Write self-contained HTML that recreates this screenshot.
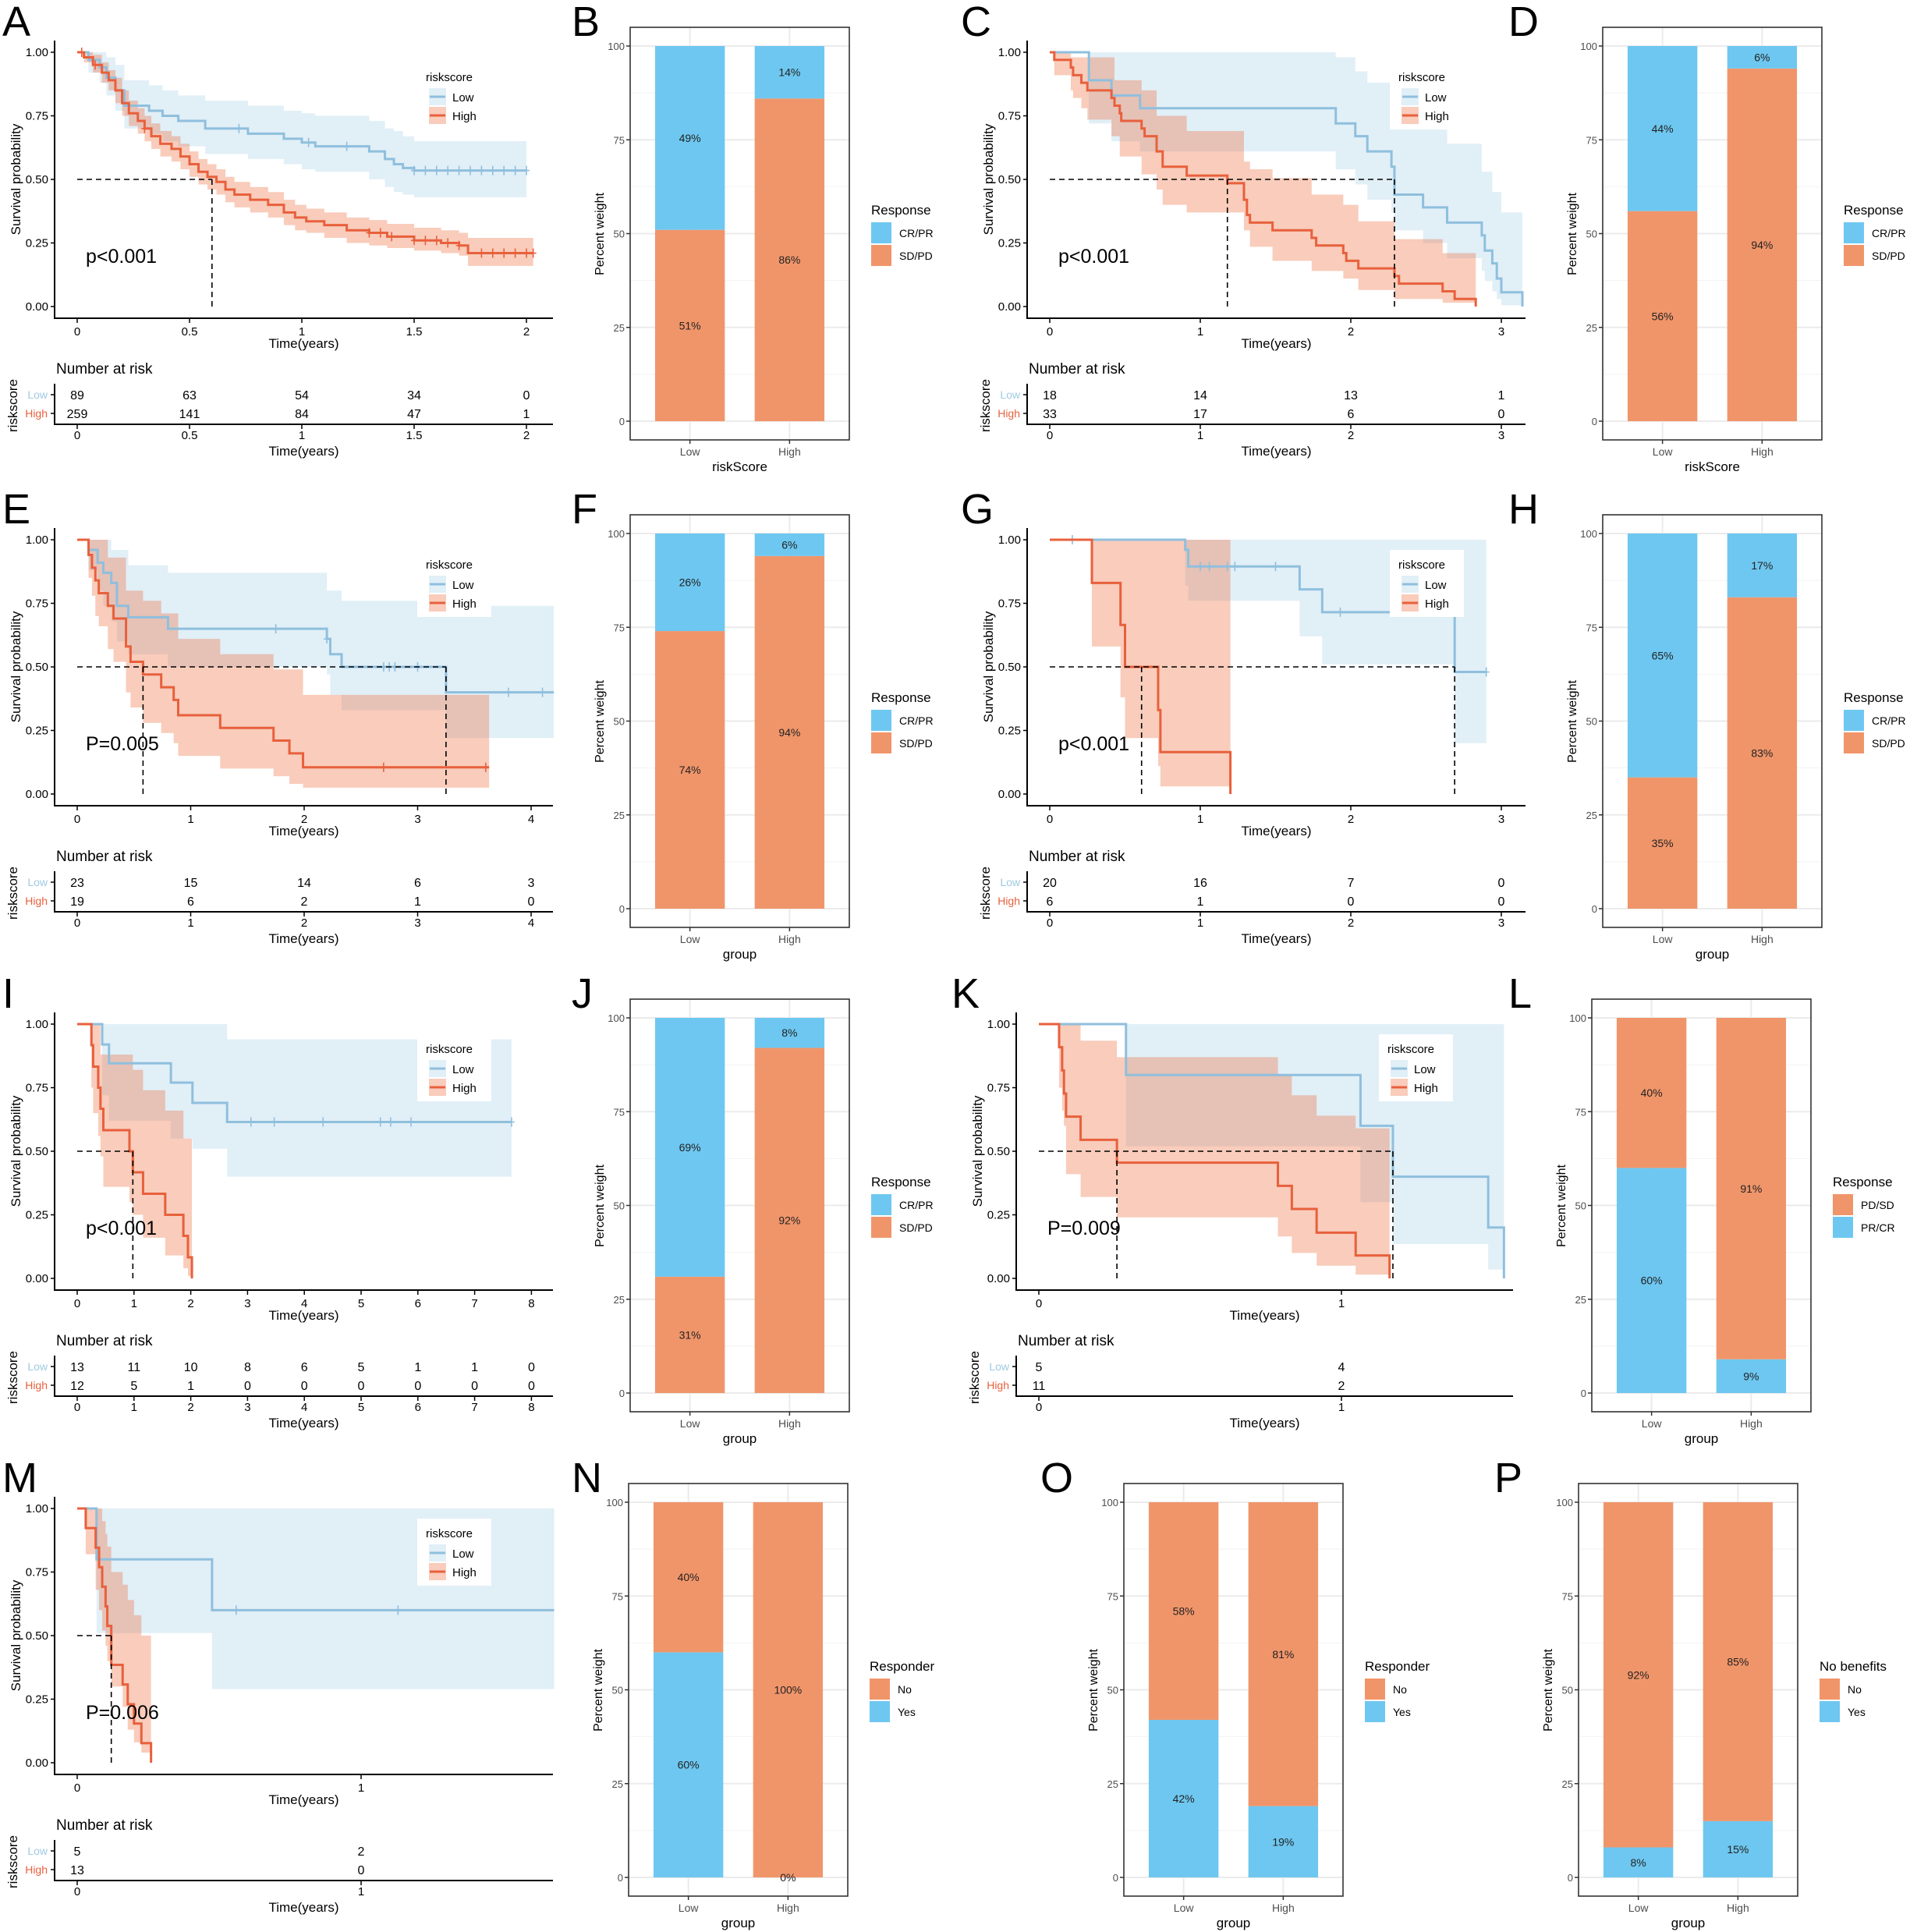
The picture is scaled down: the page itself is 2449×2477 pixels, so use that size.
<!DOCTYPE html>
<html><head><meta charset="utf-8"><style>
html,body{margin:0;padding:0;background:#fff;}
svg{display:block;font-family:"Liberation Sans",Arial,sans-serif;}
</style></head><body>
<svg id="fig" width="2449" height="2477" viewBox="0 0 2449 2477" xmlns="http://www.w3.org/2000/svg">
<rect x="0" y="0" width="2449" height="2477" fill="#fff"/>
</svg>
<script>
// ---------- KM data ----------
const kmA_low_t=[0,0.05,0.1,0.13,0.17,0.21,0.32,0.38,0.45,0.57,0.76,0.92,1.0,1.06,1.3,1.37,1.41,1.45,1.5];
const kmA_low_s=[1,0.97,0.94,0.90,0.85,0.79,0.77,0.75,0.73,0.70,0.68,0.66,0.645,0.63,0.61,0.58,0.56,0.545,0.535];
const kmA_low_lo=[1,0.92,0.88,0.83,0.77,0.70,0.68,0.65,0.63,0.60,0.58,0.56,0.54,0.53,0.50,0.47,0.45,0.44,0.43];
const kmA_low_hi=[1,1,1,0.98,0.95,0.89,0.87,0.85,0.83,0.81,0.79,0.77,0.76,0.75,0.73,0.70,0.69,0.67,0.65];
const kmA_low_cens=[0.72,1.03,1.2,1.5,1.55,1.6,1.65,1.7,1.75,1.8,1.85,1.9,1.95,2.0];
const kmA_high_t=[0,0.03,0.07,0.11,0.14,0.17,0.2,0.23,0.27,0.3,0.33,0.37,0.42,0.46,0.5,0.54,0.58,0.62,0.66,0.7,0.77,0.85,0.92,0.97,1.02,1.1,1.2,1.3,1.38,1.5,1.62,1.7,1.74];
const kmA_high_s=[1,0.98,0.95,0.92,0.89,0.85,0.80,0.76,0.73,0.70,0.67,0.64,0.62,0.59,0.56,0.53,0.51,0.49,0.46,0.44,0.42,0.40,0.37,0.35,0.335,0.32,0.30,0.29,0.275,0.26,0.25,0.24,0.21];
const kmA_high_lo=[1,0.96,0.92,0.88,0.85,0.8,0.75,0.71,0.68,0.65,0.62,0.59,0.57,0.54,0.51,0.48,0.46,0.44,0.41,0.39,0.37,0.35,0.32,0.30,0.29,0.27,0.25,0.24,0.23,0.22,0.21,0.2,0.16];
const kmA_high_hi=[1,1,0.99,0.96,0.93,0.9,0.85,0.81,0.78,0.75,0.72,0.69,0.67,0.64,0.61,0.58,0.56,0.54,0.51,0.49,0.47,0.45,0.42,0.40,0.385,0.37,0.35,0.34,0.325,0.31,0.30,0.29,0.27];
const kmA_high_cens=[0.02,0.08,0.3,1.3,1.35,1.4,1.5,1.55,1.6,1.65,1.7,1.8,1.85,1.9,1.95,2.0,2.03];
const kmA_risk_low=[89,63,54,34,0], kmA_risk_high=[259,141,84,47,1];
const kmA_ticks=[0,0.5,1,1.5,2], kmA_tickLabels=["0","0.5","1","1.5","2"];
const kmA_medians=[0.6];

const kmC_low_t=[0,0.26,0.41,0.6,1.9,2.03,2.11,2.27,2.29,2.48,2.64,2.87,2.89,2.94,2.97,3.0,3.14];
const kmC_low_s=[1,0.89,0.83,0.78,0.72,0.67,0.61,0.55,0.44,0.39,0.33,0.28,0.22,0.17,0.11,0.056,0];
const kmC_low_hi=[1,1,1,1,0.98,0.925,0.88,0.70,0.70,0.70,0.64,0.53,0.53,0.45,0.45,0.37,0];
const kmC_low_lo=[1,0.72,0.65,0.61,0.54,0.48,0.42,0.37,0.30,0.25,0.19,0.14,0.10,0.06,0.03,0.005,0];
const kmC_high_t=[0,0.03,0.14,0.155,0.21,0.25,0.41,0.43,0.465,0.475,0.61,0.63,0.71,0.75,0.91,1.18,1.29,1.31,1.33,1.48,1.74,1.77,1.95,1.97,2.05,2.29,2.32,2.61,2.69,2.83];
const kmC_high_s=[1,0.97,0.94,0.91,0.88,0.85,0.82,0.79,0.76,0.73,0.70,0.67,0.61,0.55,0.515,0.485,0.42,0.36,0.33,0.30,0.27,0.24,0.21,0.18,0.15,0.12,0.09,0.06,0.03,0];
const kmC_high_hi=[1,1,0.98,0.98,0.98,0.98,0.98,0.89,0.89,0.89,0.85,0.85,0.75,0.75,0.69,0.69,0.57,0.57,0.54,0.505,0.44,0.44,0.40,0.40,0.335,0.265,0.265,0.21,0.21,0];
const kmC_high_lo=[1,0.91,0.85,0.82,0.78,0.735,0.67,0.67,0.59,0.59,0.52,0.52,0.46,0.40,0.37,0.37,0.30,0.30,0.235,0.18,0.14,0.14,0.11,0.11,0.065,0.03,0.03,0.015,0.015,0];
const kmC_risk_low=[18,14,13,1], kmC_risk_high=[33,17,6,0];
const kmC_ticks=[0,1,2,3], kmC_tickLabels=["0","1","2","3"];
const kmC_medians=[1.18,2.29];

const kmE_low_t=[0,0.1,0.18,0.23,0.3,0.35,0.45,0.8,2.2,2.23,2.33,3.25];
const kmE_low_s=[1,0.96,0.91,0.87,0.83,0.74,0.695,0.65,0.61,0.55,0.50,0.40];
const kmE_low_hi=[1,1,1,1,0.96,0.96,0.90,0.87,0.80,0.80,0.76,0.74];
const kmE_low_lo=[1,0.88,0.80,0.74,0.68,0.6,0.55,0.5,0.47,0.39,0.33,0.22];
const kmE_low_cens=[1.75,2.2,2.7,2.75,2.8,3.0,3.8,4.1];
const kmE_high_t=[0,0.1,0.13,0.16,0.19,0.27,0.32,0.43,0.47,0.58,0.74,0.85,0.89,1.26,1.73,1.87,1.99];
const kmE_high_s=[1,0.94,0.89,0.84,0.79,0.74,0.69,0.58,0.52,0.47,0.42,0.37,0.31,0.26,0.21,0.16,0.105];
const kmE_high_hi=[1,1,1,1,1,0.93,0.93,0.80,0.80,0.76,0.71,0.71,0.61,0.55,0.49,0.49,0.39];
const kmE_high_lo=[1,0.85,0.78,0.70,0.66,0.57,0.52,0.40,0.34,0.28,0.24,0.20,0.15,0.10,0.07,0.04,0.025];
const kmE_high_cens=[2.7,3.6];
const kmE_risk_low=[23,15,14,6,3], kmE_risk_high=[19,6,2,1,0];
const kmE_ticks=[0,1,2,3,4], kmE_tickLabels=["0","1","2","3","4"];
const kmE_medians=[0.58,3.25];

const kmG_low_t=[0,0.9,0.92,1.66,1.81,2.69];
const kmG_low_s=[1,0.96,0.895,0.805,0.715,0.48];
const kmG_low_hi=[1,1,1,1,1,1];
const kmG_low_lo=[1,0.82,0.76,0.62,0.51,0.2];
const kmG_low_cens=[0.15,1.0,1.06,1.18,1.23,1.5,1.93,2.9];
const kmG_high_t=[0,0.28,0.47,0.5,0.72,0.735,1.2];
const kmG_high_s=[1,0.83,0.665,0.5,0.33,0.165,0];
const kmG_high_hi=[1,1,1,1,1,1,0];
const kmG_high_lo=[1,0.58,0.38,0.22,0.11,0.03,0];
const kmG_risk_low=[20,16,7,0], kmG_risk_high=[6,1,0,0];
const kmG_ticks=[0,1,2,3], kmG_tickLabels=["0","1","2","3"];
const kmG_medians=[0.61,2.69];

const kmI_low_t=[0,0.44,0.56,1.65,2.03,2.64];
const kmI_low_s=[1,0.92,0.846,0.77,0.69,0.615];
const kmI_low_hi=[1,1,1,1,1,0.94];
const kmI_low_lo=[1,0.72,0.62,0.55,0.51,0.40];
const kmI_low_cens=[3.06,3.47,4.33,5.34,5.52,5.88,7.65];
const kmI_high_t=[0,0.25,0.28,0.37,0.41,0.46,0.92,0.98,1.16,1.55,1.87,1.95,2.02];
const kmI_high_s=[1,0.917,0.833,0.75,0.667,0.583,0.5,0.417,0.333,0.25,0.167,0.083,0];
const kmI_high_hi=[1,1,1,1,0.88,0.88,0.88,0.82,0.74,0.66,0.55,0.55,0];
const kmI_high_lo=[1,0.75,0.65,0.56,0.48,0.36,0.30,0.25,0.16,0.09,0.04,0.01,0];
const kmI_risk_low=[13,11,10,8,6,5,1,1,0], kmI_risk_high=[12,5,1,0,0,0,0,0,0];
const kmI_ticks=[0,1,2,3,4,5,6,7,8], kmI_tickLabels=["0","1","2","3","4","5","6","7","8"];
const kmI_medians=[0.98];

const kmK_low_t=[0,0.288,1.063,1.17,1.485,1.537];
const kmK_low_s=[1,0.8,0.6,0.4,0.2,0];
const kmK_low_hi=[1,1,1,1,1,0];
const kmK_low_lo=[1,0.52,0.30,0.135,0.035,0];
const kmK_high_t=[0,0.067,0.077,0.083,0.09,0.138,0.258,0.79,0.836,0.918,1.047,1.159];
const kmK_high_s=[1,0.909,0.818,0.727,0.636,0.545,0.455,0.364,0.273,0.18,0.09,0];
const kmK_high_hi=[1,1,1,1,1,0.935,0.87,0.80,0.72,0.64,0.59,0];
const kmK_high_lo=[1,0.75,0.66,0.6,0.41,0.32,0.24,0.165,0.10,0.05,0.015,0];
const kmK_risk_low=[5,4], kmK_risk_high=[11,2];
const kmK_ticks=[0,1], kmK_tickLabels=["0","1"];
const kmK_medians=[0.258,1.17];

const kmM_low_t=[0,0.068,0.475];
const kmM_low_s=[1,0.8,0.6];
const kmM_low_hi=[1,1,1];
const kmM_low_lo=[1,0.51,0.29];
const kmM_low_cens=[0.56,1.13];
const kmM_high_t=[0,0.03,0.065,0.077,0.088,0.1,0.106,0.12,0.16,0.178,0.2,0.226,0.26];
const kmM_high_s=[1,0.923,0.846,0.769,0.692,0.615,0.538,0.385,0.308,0.23,0.154,0.077,0];
const kmM_high_hi=[1,1,1,1,0.95,0.9,0.85,0.75,0.7,0.64,0.58,0.5,0];
const kmM_high_lo=[1,0.82,0.68,0.6,0.52,0.46,0.4,0.3,0.22,0.13,0.08,0.04,0];
const kmM_risk_low=[5,2], kmM_risk_high=[13,0];
const kmM_ticks=[0,1], kmM_tickLabels=["0","1"];
const kmM_medians=[0.12];

// ---------- Bar data ----------
const barCats=["Low","High"];
const barB_bottom=[51,86], barB_top=[49,14];
const barD_bottom=[56,94], barD_top=[44,6];
const barF_bottom=[74,94], barF_top=[26,6];
const barH_bottom=[35,83], barH_top=[65,17];
const barJ_bottom=[31,92], barJ_top=[69,8];
const barL_bottom=[60,9], barL_top=[40,91];
const barN_bottom=[60,0], barN_top=[40,100];
const barO_bottom=[42,19], barO_top=[58,81];
const barP_bottom=[8,15], barP_top=[92,85];
const yTicks=[0,25,50,75,100];

const svg=document.getElementById('fig');
const NS='http://www.w3.org/2000/svg';
const BLUE_L='#8fbfdd', RED_L='#e8603c';
const BLUE_F='rgba(134,190,225,0.25)', RED_F='rgba(238,110,60,0.35)';
const BAR_B='#6ec7f0', BAR_O='#f0956a';
function add(parent,tag,attrs){const e=document.createElementNS(NS,tag);for(const k in attrs)e.setAttribute(k,attrs[k]);parent.appendChild(e);return e;}
function txt(parent,x,y,s,size,anchor,fill,rot){const t=add(parent,'text',{x:x,y:y,'font-size':size,'text-anchor':anchor||'start',fill:fill||'#000'});if(rot)t.setAttribute('transform','rotate(-90 '+x+' '+y+')');t.textContent=s;return t;}

function panelLetter(x,y,s){const t=txt(svg,x,y,s,54,'start','#000');

}

function kmPanel(c){
  const g=add(svg,'g',{});
  
  
  const X=t=>c.dx+99+t*c.ppy, Y=s=>c.dy+393-s*326;
  const L=c.dx+70, R=c.dx+c.axisEnd;
  function ci(ser,fill,nm){
    let d='M'+X(ser.t[0])+' '+Y(ser.hi[0]);
    for(let i=1;i<ser.t.length;i++)d+=' H'+X(ser.t[i])+' V'+Y(ser.hi[i]);
    d+=' H'+X(ser.end)+' V'+Y(ser.lo[ser.lo.length-1]);
    for(let i=ser.t.length-1;i>=1;i--)d+=' H'+X(ser.t[i])+' V'+Y(ser.lo[i-1]);
    d+=' H'+X(ser.t[0])+' Z';
    const p=add(g,'path',{d:d,fill:fill,stroke:'none'});
    
    
  }
  function line(ser,col,nm){
    let d='M'+X(ser.t[0])+' '+Y(ser.s[0]);
    for(let i=1;i<ser.t.length;i++)d+=' H'+X(ser.t[i])+' V'+Y(ser.s[i]);
    d+=' H'+X(ser.end);
    const p=add(g,'path',{d:d,fill:'none',stroke:col,'stroke-width':3});
    
    
    (ser.cens||[]).forEach(ct=>{
      let sv=ser.s[0];for(let i=0;i<ser.t.length;i++)if(ser.t[i]<=ct)sv=ser.s[i];
      const m=add(g,'path',{d:'M'+X(ct)+' '+(Y(sv)-6)+' V'+(Y(sv)+6)+' M'+(X(ct)-4)+' '+Y(sv)+' H'+(X(ct)+4),stroke:col,'stroke-width':1.6,fill:'none'});
      
      
    });
  }
  ci(c.low,BLUE_F,'ci-band-low'); ci(c.high,RED_F,'ci-band-high');
  line(c.low,BLUE_L,'survival-curve-low'); line(c.high,RED_L,'survival-curve-high');
  const mx=Math.max.apply(null,c.medians);
  let md='M'+X(0)+' '+Y(0.5)+' H'+X(mx);
  c.medians.forEach(m=>{md+=' M'+X(m)+' '+Y(0.5)+' V'+Y(0);});
  const mp=add(g,'path',{d:md,stroke:'#000','stroke-width':1.6,'stroke-dasharray':'7,5',fill:'none'});
  
  
  const ax=add(g,'path',{d:'M'+L+' '+(c.dy+52)+' V'+(c.dy+408)+' H'+R,stroke:'#000','stroke-width':2,fill:'none'});
  
  
  [0,0.25,0.5,0.75,1].forEach((v,i)=>{
    const tk=add(g,'line',{x1:L-5,x2:L,y1:Y(v),y2:Y(v),stroke:'#000','stroke-width':1.5});
    
    
    const tl=txt(g,L-8,Y(v)+5,["0.00","0.25","0.50","0.75","1.00"][i],15,'end','#000');
    
    
  });
  c.ticks.forEach((v,i)=>{
    const tk=add(g,'line',{x1:X(v),x2:X(v),y1:c.dy+408,y2:c.dy+414,stroke:'#000','stroke-width':1.5});
    
    
    const tl=txt(g,X(v),c.dy+430,c.tickLabels[i],15,'middle','#000');
    
    
  });
  const yt=txt(g,c.dx+26,c.dy+230,'Survival probability',17,'middle','#000',true);
  
  
  const xt=txt(g,(L+R)/2,c.dy+446,'Time(years)',17,'middle','#000');
  
  
  const pv=txt(g,c.dx+110,c.dy+337,c.p,25,'start','#000');
  
  
  const lg=add(g,'g',{});
  
  
  const lb=add(lg,'rect',{x:c.dx+535,y:c.dy+80,width:95,height:86,fill:'#fff'});
  
  
  const lt=txt(lg,c.dx+546,c.dy+104,'riskscore',15,'start','#000');
  
  
  [['Low',BLUE_F,BLUE_L,113],['High',RED_F,RED_L,137]].forEach(e=>{
    const k=add(lg,'rect',{x:c.dx+550,y:c.dy+e[3],width:22,height:22,fill:e[1]});
    
    
    const kl=add(lg,'line',{x1:c.dx+551,x2:c.dx+571,y1:c.dy+e[3]+11,y2:c.dy+e[3]+11,stroke:e[2],'stroke-width':3});
    
    
    const kt=txt(lg,c.dx+580,c.dy+e[3]+17,e[0],15,'start','#000');
    
    
  });
  const rt=add(g,'g',{});
  
  
  const nr=txt(rt,c.dx+72,c.dy+479,'Number at risk',19,'start','#000');
  
  
  const rax=add(rt,'path',{d:'M'+L+' '+(c.dy+492)+' V'+(c.dy+544)+' H'+R,stroke:'#000','stroke-width':2,fill:'none'});
  
  
  [['Low','#9ecae1',506,c.riskLow],['High',RED_L,530,c.riskHigh]].forEach(r=>{
    const rl=txt(rt,L-9,c.dy+r[2]+5,r[0],14,'end',r[1]);
    
    
    const rtk=add(rt,'line',{x1:L-5,x2:L,y1:c.dy+r[2],y2:c.dy+r[2],stroke:'#000','stroke-width':1.5});
    
    
    r[3].forEach((n,i)=>{
      const nt=txt(rt,X(c.ticks[i]),c.dy+r[2]+6,String(n),16,'middle','#000');
      
      
    });
  });
  c.ticks.forEach((v,i)=>{
    const tk=add(rt,'line',{x1:X(v),x2:X(v),y1:c.dy+544,y2:c.dy+550,stroke:'#000','stroke-width':1.5});
    
    
    const tl=txt(rt,X(v),c.dy+563,c.tickLabels[i],15,'middle','#000');
    
    
  });
  const rxt=txt(rt,(L+R)/2,c.dy+584,'Time(years)',17,'middle','#000');
  
  
  const ryt=txt(rt,c.dx+22,c.dy+520,'riskscore',17,'middle','#000',true);
  
  
}

function barPanel(c){
  const g=add(svg,'g',{});
  
  
  const bx=c.bx, dy=c.dy, W=281, unit=W/2.2;
  const Y=v=>dy+540-v*4.81;
  const CX=i=>bx+unit*(0.6+i);
  [12.5,37.5,62.5,87.5].forEach(v=>{
    const gl=add(g,'line',{x1:bx,x2:bx+W,y1:Y(v),y2:Y(v),stroke:'#f2f2f2','stroke-width':1});
    
    
  });
  yTicks.forEach(v=>{
    const gl=add(g,'line',{x1:bx,x2:bx+W,y1:Y(v),y2:Y(v),stroke:'#ebebeb','stroke-width':2});
    
    
  });
  barCats.forEach((cat,i)=>{
    const gl=add(g,'line',{x1:CX(i),x2:CX(i),y1:dy+35,y2:dy+564,stroke:'#ebebeb','stroke-width':2});
    
    
  });
  barCats.forEach((cat,i)=>{
    const b=c.bottom[i], t=c.top[i], hw=unit*0.35;
    const r1=add(g,'rect',{x:CX(i)-hw,y:Y(b),width:2*hw,height:Y(0)-Y(b),fill:c.bottomColor});
    
    
    const r2=add(g,'rect',{x:CX(i)-hw,y:Y(b+t),width:2*hw,height:Y(b)-Y(b+t),fill:c.topColor});
    
    
    const l1=txt(g,CX(i),(Y(0)+Y(b))/2+5,Math.round(b)+'%',14,'middle','#222');
    
    
    const l2=txt(g,CX(i),(Y(b)+Y(b+t))/2+5,Math.round(t)+'%',14,'middle','#222');
    
    
    const tk=add(g,'line',{x1:CX(i),x2:CX(i),y1:dy+564,y2:dy+569,stroke:'#333','stroke-width':1.5});
    
    
    const tl=txt(g,CX(i),dy+584,cat,14,'middle','#4d4d4d');
    
    
  });
  const box=add(g,'rect',{x:bx,y:dy+35,width:W,height:529,fill:'none',stroke:'#333','stroke-width':1.6});
  
  
  yTicks.forEach(v=>{
    const tk=add(g,'line',{x1:bx-5,x2:bx,y1:Y(v),y2:Y(v),stroke:'#333','stroke-width':1.5});
    
    
    const tl=txt(g,bx-7,Y(v)+5,String(v),13,'end','#4d4d4d');
    
    
  });
  const yt=txt(g,bx-34,dy+300,'Percent weight',16,'middle','#000',true);
  
  
  const xt=txt(g,bx+W/2,dy+604,c.xtitle,17,'middle','#000');
  
  
  const lx=bx+W+28;
  const lt=txt(g,lx,dy+275,c.legTitle,17,'start','#000');
  
  
  c.leg.forEach((e,i)=>{
    const k=add(g,'rect',{x:lx,y:dy+285+i*29,width:26,height:27,fill:e[1]});
    
    
    const kt=txt(g,lx+36,dy+304+i*29,e[0],14,'start','#000');
    
    
  });
}

const ROW=[0,625,1246,1867];
const crLeg=[['CR/PR',BAR_B],['SD/PD',BAR_O]];
function km(id,dx,dy,ppy,axisEnd,p,pre,lowCens,highCens){
  const w=window;
  kmPanel({id:id,dx:dx,dy:dy,ppy:ppy,axisEnd:axisEnd,p:p,
    ticks:w[pre+'_ticks'],tickLabels:w[pre+'_tickLabels'],medians:w[pre+'_medians'],
    riskLow:w[pre+'_risk_low'],riskHigh:w[pre+'_risk_high'],
    low:{t:w[pre+'_low_t'],s:w[pre+'_low_s'],lo:w[pre+'_low_lo'],hi:w[pre+'_low_hi'],end:lowCens.end,cens:lowCens.c},
    high:{t:w[pre+'_high_t'],s:w[pre+'_high_s'],lo:w[pre+'_high_lo'],hi:w[pre+'_high_hi'],end:highCens.end,cens:highCens.c}});
}
Object.assign(window,{kmA_low_t,kmA_low_s,kmA_low_lo,kmA_low_hi,kmA_high_t,kmA_high_s,kmA_high_lo,kmA_high_hi,kmA_risk_low,kmA_risk_high,kmA_ticks,kmA_tickLabels,kmA_medians,
kmC_low_t,kmC_low_s,kmC_low_lo,kmC_low_hi,kmC_high_t,kmC_high_s,kmC_high_lo,kmC_high_hi,kmC_risk_low,kmC_risk_high,kmC_ticks,kmC_tickLabels,kmC_medians,
kmE_low_t,kmE_low_s,kmE_low_lo,kmE_low_hi,kmE_high_t,kmE_high_s,kmE_high_lo,kmE_high_hi,kmE_risk_low,kmE_risk_high,kmE_ticks,kmE_tickLabels,kmE_medians,
kmG_low_t,kmG_low_s,kmG_low_lo,kmG_low_hi,kmG_high_t,kmG_high_s,kmG_high_lo,kmG_high_hi,kmG_risk_low,kmG_risk_high,kmG_ticks,kmG_tickLabels,kmG_medians,
kmI_low_t,kmI_low_s,kmI_low_lo,kmI_low_hi,kmI_high_t,kmI_high_s,kmI_high_lo,kmI_high_hi,kmI_risk_low,kmI_risk_high,kmI_ticks,kmI_tickLabels,kmI_medians,
kmK_low_t,kmK_low_s,kmK_low_lo,kmK_low_hi,kmK_high_t,kmK_high_s,kmK_high_lo,kmK_high_hi,kmK_risk_low,kmK_risk_high,kmK_ticks,kmK_tickLabels,kmK_medians,
kmM_low_t,kmM_low_s,kmM_low_lo,kmM_low_hi,kmM_high_t,kmM_high_s,kmM_high_lo,kmM_high_hi,kmM_risk_low,kmM_risk_high,kmM_ticks,kmM_tickLabels,kmM_medians});

km('a',0,ROW[0],288,709,'p<0.001','kmA',{end:2.0,c:kmA_low_cens},{end:2.03,c:kmA_high_cens});
km('c',1247,ROW[0],193,709,'p<0.001','kmC',{end:3.14,c:[]},{end:2.83,c:[]});
km('e',0,ROW[1],145.5,709,'P=0.005','kmE',{end:4.2,c:kmE_low_cens},{end:3.63,c:kmE_high_cens});
km('g',1247,ROW[1],193,709,'p<0.001','kmG',{end:2.9,c:kmG_low_cens},{end:1.2,c:[]});
km('i',0,ROW[2],72.8,709,'p<0.001','kmI',{end:7.65,c:kmI_low_cens},{end:2.02,c:[]});
km('k',1233,ROW[2],388,707,'P=0.009','kmK',{end:1.537,c:[]},{end:1.159,c:[]});
km('m',0,ROW[3],364,709,'P=0.006','kmM',{end:1.68,c:kmM_low_cens},{end:0.26,c:[]});

barPanel({id:'b',bx:808,dy:ROW[0],bottom:barB_bottom,top:barB_top,bottomColor:BAR_O,topColor:BAR_B,xtitle:'riskScore',legTitle:'Response',leg:crLeg});
barPanel({id:'d',bx:2055,dy:ROW[0],bottom:barD_bottom,top:barD_top,bottomColor:BAR_O,topColor:BAR_B,xtitle:'riskScore',legTitle:'Response',leg:crLeg});
barPanel({id:'f',bx:808,dy:ROW[1],bottom:barF_bottom,top:barF_top,bottomColor:BAR_O,topColor:BAR_B,xtitle:'group',legTitle:'Response',leg:crLeg});
barPanel({id:'h',bx:2055,dy:ROW[1],bottom:barH_bottom,top:barH_top,bottomColor:BAR_O,topColor:BAR_B,xtitle:'group',legTitle:'Response',leg:crLeg});
barPanel({id:'j',bx:808,dy:ROW[2],bottom:barJ_bottom,top:barJ_top,bottomColor:BAR_O,topColor:BAR_B,xtitle:'group',legTitle:'Response',leg:crLeg});
barPanel({id:'l',bx:2041,dy:ROW[2],bottom:barL_bottom,top:barL_top,bottomColor:BAR_B,topColor:BAR_O,xtitle:'group',legTitle:'Response',leg:[['PD/SD',BAR_O],['PR/CR',BAR_B]]});
barPanel({id:'n',bx:806,dy:ROW[3],bottom:barN_bottom,top:barN_top,bottomColor:BAR_B,topColor:BAR_O,xtitle:'group',legTitle:'Responder',leg:[['No',BAR_O],['Yes',BAR_B]]});
barPanel({id:'o',bx:1441,dy:ROW[3],bottom:barO_bottom,top:barO_top,bottomColor:BAR_B,topColor:BAR_O,xtitle:'group',legTitle:'Responder',leg:[['No',BAR_O],['Yes',BAR_B]]});
barPanel({id:'p',bx:2024,dy:ROW[3],bottom:barP_bottom,top:barP_top,bottomColor:BAR_B,topColor:BAR_O,xtitle:'group',legTitle:'No benefits',leg:[['No',BAR_O],['Yes',BAR_B]]});

[['A',3,0],['B',733,0],['C',1232,0],['D',1934,0],
 ['E',3,1],['F',733,1],['G',1232,1],['H',1934,1],
 ['I',3,2],['J',733,2],['K',1220,2],['L',1934,2],
 ['M',3,3],['N',733,3],['O',1334,3],['P',1916,3]].forEach(a=>panelLetter(a[1],ROW[a[2]]+46,a[0]));
</script>
</body></html>
